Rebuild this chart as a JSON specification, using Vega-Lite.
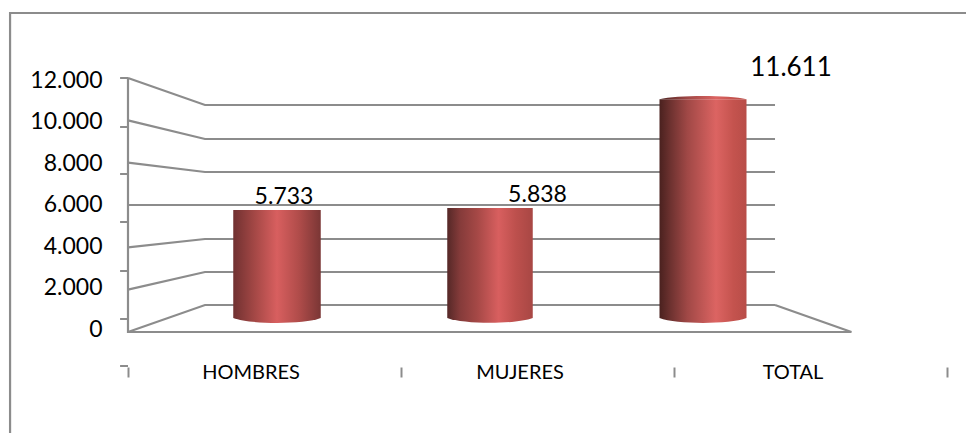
{
"$schema":"https://vega.github.io/schema/vega-lite/v6.json",
"width":819,"height":254,"autosize":{"type":"none"},
"padding":{"left":128,"top":78,"right":19,"bottom":101},
"background":"white",
"config":{"view":{"stroke":null},"font":"Lato","locale":{"number":{"decimal":",","thousands":".","grouping":[3],"currency":["","€"]}}},
"datasets":{
"valores":[{"categoria":"HOMBRES","valor":5733},{"categoria":"MUJERES","valor":5838},{"categoria":"TOTAL","valor":11611}],
"marcas":[{"v":12096,"a":-0.029,"b":0},{"v":9735,"a":-0.029,"b":0},{"v":7470,"a":-0.029,"b":0},{"v":5157,"a":-0.029,"b":0},{"v":2795,"a":-0.029,"b":0},{"v":482,"a":-0.029,"b":0},{"v":-1783,"a":-0.029,"b":0}],
"rejilla":[
{"l":"marco","o":1,"x":-0.432,"y":-4772},{"l":"marco","o":2,"x":-0.432,"y":15070},{"l":"marco","o":3,"x":3.07,"y":15070},
{"l":"eje","o":1,"x":0,"y":12000},{"l":"eje","o":2,"x":0,"y":0},{"l":"eje","o":3,"x":2.65,"y":0},{"l":"eje","o":4,"x":2.37,"y":1276},
{"l":"g12","o":1,"x":0,"y":12000},{"l":"g12","o":2,"x":0.282,"y":10724},{"l":"g12","o":3,"x":2.37,"y":10724},
{"l":"g10","o":1,"x":0,"y":10000},{"l":"g10","o":2,"x":0.282,"y":9118},{"l":"g10","o":3,"x":2.37,"y":9118},
{"l":"g8","o":1,"x":0,"y":8000},{"l":"g8","o":2,"x":0.282,"y":7559},{"l":"g8","o":3,"x":2.37,"y":7559},
{"l":"g6","o":1,"x":0,"y":6000},{"l":"g6","o":2,"x":0.282,"y":6000},{"l":"g6","o":3,"x":2.37,"y":6000},
{"l":"g4","o":1,"x":0,"y":4000},{"l":"g4","o":2,"x":0.282,"y":4394},{"l":"g4","o":3,"x":2.37,"y":4394},
{"l":"g2","o":1,"x":0,"y":2000},{"l":"g2","o":2,"x":0.282,"y":2835},{"l":"g2","o":3,"x":2.37,"y":2835},
{"l":"g0","o":1,"x":0,"y":0},{"l":"g0","o":2,"x":0.282,"y":1276},{"l":"g0","o":3,"x":2.37,"y":1276}
]},
"resolve":{"scale":{"x":"independent","y":"independent"},"axis":{"x":"independent","y":"independent"}},
"layer":[
{"data":{"name":"rejilla"},"mark":{"type":"line","stroke":"#8c8c8c","strokeWidth":2.2,"interpolate":"linear","clip":false},
 "encoding":{"x":{"field":"x","type":"quantitative","scale":{"domain":[0,3],"range":[0,819],"nice":false,"zero":false},"axis":null},
 "y":{"field":"y","type":"quantitative","scale":{"domain":[0,12000],"range":[254,0],"nice":false,"zero":false},"axis":null},
 "detail":{"field":"l"},"order":{"field":"o","type":"quantitative"}}},
{"data":{"name":"marcas"},"mark":{"type":"rule","stroke":"#8c8c8c","strokeWidth":2},
 "encoding":{"x":{"field":"a","type":"quantitative","scale":{"domain":[0,3],"range":[0,819],"nice":false,"zero":false},"axis":null},"x2":{"field":"b"},
 "y":{"field":"v","type":"quantitative","scale":{"domain":[0,12000],"range":[251,2],"nice":false,"zero":false},
 "axis":{"orient":"left","title":null,"values":[0,2000,4000,6000,8000,10000,12000],"labelExpr":"format(datum.value,',')","domain":false,"ticks":false,"grid":false,"labelPadding":26,"labelFontSize":23,"labelColor":"#000000","labelFont":"Lato","labelBaseline":"middle","labelOverlap":false}}}},
{"data":{"name":"valores"},"mark":{"type":"rule","opacity":0},
 "encoding":{"x":{"field":"categoria","type":"nominal","sort":null,"scale":{"type":"band","domain":["HOMBRES","MUJERES","TOTAL"],"range":[0,819],"paddingInner":0,"paddingOuter":0},
 "axis":{"orient":"bottom","title":null,"offset":35,"domain":false,"grid":false,"tickBand":"extent","tickSize":10,"tickWidth":2,"tickColor":"#8c8c8c","labelAngle":0,"labelPadding":-5,"labelBaseline":"middle","labelFontSize":20,"labelColor":"#000000","labelFont":"Lato",
 "labelOffset":{"condition":{"test":"datum.value==='HOMBRES'","value":-14},"value":-18}}}}},
{"data":{"name":"valores"},"transform":[{"filter":"datum.categoria==='HOMBRES'"}],"layer":[
 {"mark":{"type":"bar","width":87.5,"fill":{"x1":0,"y1":0,"x2":1,"y2":0,"gradient":"linear","stops":[{"offset":0,"color":"#703131"},{"offset":0.25,"color":"#a54846"},{"offset":0.5,"color":"#d85f5f"},{"offset":0.75,"color":"#b04c4a"},{"offset":1,"color":"#7a3635"}]}},
 "encoding":{"x":{"field":"categoria","type":"nominal","scale":{"type":"point","domain":["HOMBRES","MUJERES","TOTAL"],"range":[149,575],"padding":0},"axis":null},
 "y":{"field":"valor","type":"quantitative","scale":{"domain":[0,12000],"range":[240,14],"nice":false},"axis":null}}},
 {"mark":{"type":"point","filled":true,"opacity":1,"size":7656,"shape":"M-1,0 C-0.6,0.15 0.6,0.15 1,0 Z","fill":{"x1":0,"y1":0,"x2":1,"y2":0,"gradient":"linear","stops":[{"offset":0,"color":"#703131"},{"offset":0.25,"color":"#a54846"},{"offset":0.5,"color":"#d85f5f"},{"offset":0.75,"color":"#b04c4a"},{"offset":1,"color":"#7a3635"}]}},
 "encoding":{"x":{"field":"categoria","type":"nominal","scale":{"type":"point","domain":["HOMBRES","MUJERES","TOTAL"],"range":[149,575],"padding":0},"axis":null},
 "y":{"datum":0,"type":"quantitative","scale":{"domain":[0,12000],"range":[240,14],"nice":false},"axis":null}}}
]},
{"data":{"name":"valores"},"transform":[{"filter":"datum.categoria==='MUJERES'"}],"layer":[
 {"mark":{"type":"bar","width":85.5,"fill":{"x1":0,"y1":0,"x2":1,"y2":0,"gradient":"linear","stops":[{"offset":0,"color":"#552827"},{"offset":0.15,"color":"#853b3a"},{"offset":0.35,"color":"#a54846"},{"offset":0.6,"color":"#d85f5f"},{"offset":0.8,"color":"#bd504d"},{"offset":1,"color":"#a84744"}]}},
 "encoding":{"x":{"field":"categoria","type":"nominal","scale":{"type":"point","domain":["HOMBRES","MUJERES","TOTAL"],"range":[149,575],"padding":0},"axis":null},
 "y":{"field":"valor","type":"quantitative","scale":{"domain":[0,12000],"range":[240,14],"nice":false},"axis":null}}},
 {"mark":{"type":"point","filled":true,"opacity":1,"size":7310,"shape":"M-1,0 C-0.6,0.15 0.6,0.15 1,0 Z","fill":{"x1":0,"y1":0,"x2":1,"y2":0,"gradient":"linear","stops":[{"offset":0,"color":"#552827"},{"offset":0.15,"color":"#853b3a"},{"offset":0.35,"color":"#a54846"},{"offset":0.6,"color":"#d85f5f"},{"offset":0.8,"color":"#bd504d"},{"offset":1,"color":"#a84744"}]}},
 "encoding":{"x":{"field":"categoria","type":"nominal","scale":{"type":"point","domain":["HOMBRES","MUJERES","TOTAL"],"range":[149,575],"padding":0},"axis":null},
 "y":{"datum":0,"type":"quantitative","scale":{"domain":[0,12000],"range":[240,14],"nice":false},"axis":null}}}
]},
{"data":{"name":"valores"},"transform":[{"filter":"datum.categoria==='TOTAL'"}],"layer":[
 {"mark":{"type":"bar","width":87,"fill":{"x1":0,"y1":0,"x2":1,"y2":0,"gradient":"linear","stops":[{"offset":0,"color":"#4a211f"},{"offset":0.13,"color":"#6e3230"},{"offset":0.32,"color":"#a04846"},{"offset":0.65,"color":"#dc6462"},{"offset":0.85,"color":"#c4534e"},{"offset":1,"color":"#b84d48"}]}},
 "encoding":{"x":{"field":"categoria","type":"nominal","scale":{"type":"point","domain":["HOMBRES","MUJERES","TOTAL"],"range":[149,575],"padding":0},"axis":null},
 "y":{"field":"valor","type":"quantitative","scale":{"domain":[0,12000],"range":[240,14],"nice":false},"axis":null}}},
 {"mark":{"type":"point","filled":true,"opacity":1,"size":7569,"shape":"M-1,0 C-0.6,0.15 0.6,0.15 1,0 Z","fill":{"x1":0,"y1":0,"x2":1,"y2":0,"gradient":"linear","stops":[{"offset":0,"color":"#4a211f"},{"offset":0.13,"color":"#6e3230"},{"offset":0.32,"color":"#a04846"},{"offset":0.65,"color":"#dc6462"},{"offset":0.85,"color":"#c4534e"},{"offset":1,"color":"#b84d48"}]}},
 "encoding":{"x":{"field":"categoria","type":"nominal","scale":{"type":"point","domain":["HOMBRES","MUJERES","TOTAL"],"range":[149,575],"padding":0},"axis":null},
 "y":{"datum":0,"type":"quantitative","scale":{"domain":[0,12000],"range":[240,14],"nice":false},"axis":null}}},
 {"mark":{"type":"point","filled":true,"opacity":1,"size":7569,"shape":"M-1,0 C-0.6,-0.1 0.6,-0.1 1,0 Z","fill":{"x1":0,"y1":0,"x2":1,"y2":0,"gradient":"linear","stops":[{"offset":0,"color":"#4a211f"},{"offset":0.13,"color":"#6e3230"},{"offset":0.32,"color":"#a04846"},{"offset":0.65,"color":"#dc6462"},{"offset":0.85,"color":"#c4534e"},{"offset":1,"color":"#b84d48"}]}},
 "encoding":{"x":{"field":"categoria","type":"nominal","scale":{"type":"point","domain":["HOMBRES","MUJERES","TOTAL"],"range":[149,575],"padding":0},"axis":null},
 "y":{"field":"valor","type":"quantitative","scale":{"domain":[0,12000],"range":[240,14],"nice":false},"axis":null}}}
]},
{"data":{"name":"valores"},"mark":{"type":"text","font":"Lato","color":"#000000","align":"center","baseline":"middle"},
 "encoding":{"x":{"field":"categoria","type":"nominal","scale":{"type":"point","domain":["HOMBRES","MUJERES","TOTAL"],"range":[156,663],"padding":0},"axis":null},
 "y":{"field":"valor","type":"quantitative","scale":{"domain":[0,12000],"range":[244.8,-18.6],"nice":false},"axis":null},
 "size":{"condition":{"test":"datum.valor>10000","value":26},"value":23},
 "text":{"field":"valor","type":"quantitative","format":","}}}
]}
